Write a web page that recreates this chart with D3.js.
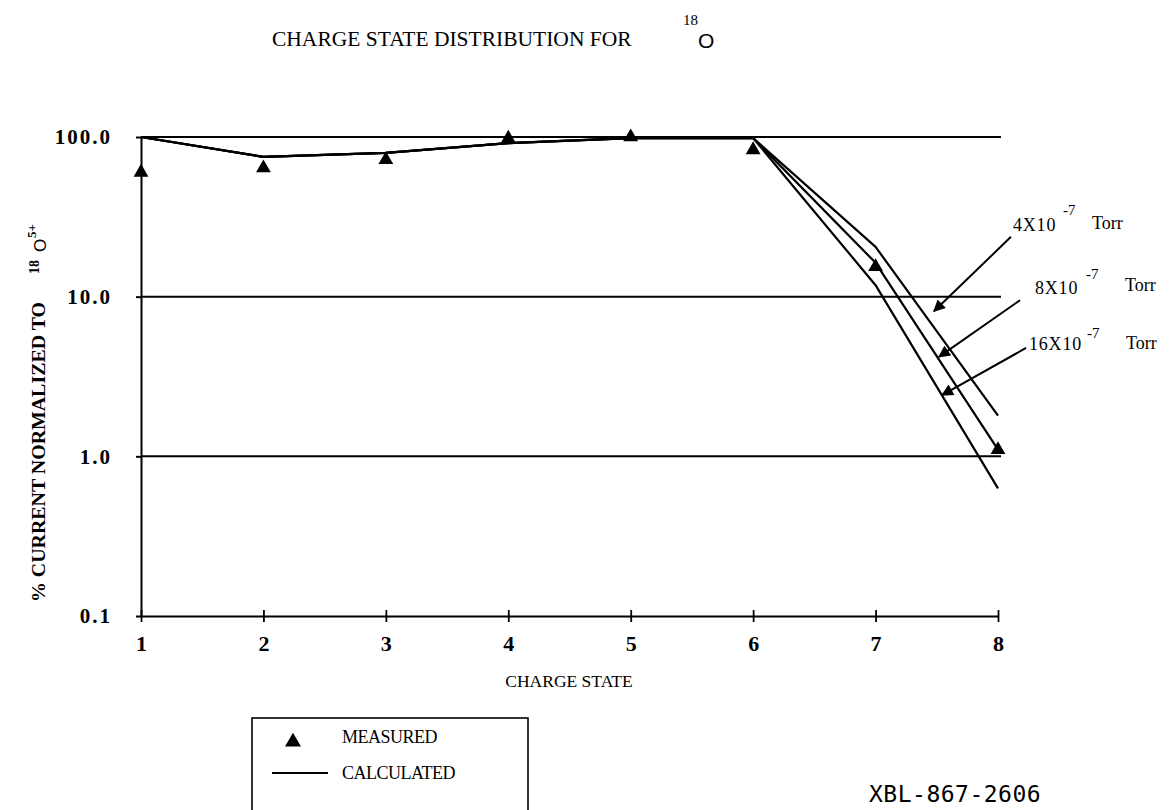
<!DOCTYPE html>
<html>
<head>
<meta charset="utf-8">
<script src="https://cdn.jsdelivr.net/npm/d3@7"></script>
<style>
  html, body { margin: 0; padding: 0; background: #fff; }
  svg { display: block; }
</style>
</head>
<body>
<svg id="chart" width="1176" height="810" font-family="Liberation Serif"></svg>
<script>
// ---- data ----
const chargeStates = [1, 2, 3, 4, 5, 6, 7, 8];
const measured     = [60, 64, 72, 98, 100, 83, 15.4, 1.1];
const calc4e7      = [100, 75, 79.5, 91.5, 98.5, 98.5, 20.5, 1.8];
const calc8e7      = [100, 75, 79.5, 91.5, 98.5, 98.5, 16.3, 1.1];
const calc16e7     = [100, 75, 79.5, 91.5, 98.5, 98.5, 11.8, 0.63];
const yTickValues  = [100, 10, 1, 0.1];
const yTickLabels  = ["100.0", "10.0", "1.0", "0.1"];
const xTickLabels  = ["1", "2", "3", "4", "5", "6", "7", "8"];
const gridValues   = [100, 10, 1];
const pressureLabels = ["4X10", "8X10", "16X10"];
// annotation arrows in data units: [x, y] of start and of tip
const arrowStart = [[8.106, 23.7], [8.18, 9.5], [8.229, 4.77]];
const arrowTip   = [[7.477, 8.1], [7.518, 4.2], [7.543, 2.42]];

// ---- layout ----
const svg = d3.select("#chart");
const x = d3.scaleLinear().domain([1, 8]).range([141, 998]);
const y = d3.scaleLog().domain([0.1, 100]).range([616, 137]);

const ink = "#000";

// gridlines
svg.append("g").selectAll("line").data(gridValues).join("line")
  .attr("x1", x(1)).attr("x2", x(8) + 3)
  .attr("y1", d => y(d)).attr("y2", d => y(d))
  .attr("stroke", ink).attr("stroke-width", 2);

// y axis
const yAxis = d3.axisLeft(y).tickValues(yTickValues)
  .tickFormat((d, i) => yTickLabels[i]).tickSizeInner(5).tickSizeOuter(0).tickPadding(24);
const gy = svg.append("g").attr("transform", `translate(${x(1)},0)`).call(yAxis);
gy.attr("font-family", null).attr("font-size", null);
gy.select(".domain").attr("stroke", ink).attr("stroke-width", 2);
gy.selectAll(".tick line").attr("stroke", ink).attr("stroke-width", 2);
gy.selectAll(".tick text").attr("font-family", "Liberation Serif").attr("font-size", 21)
  .attr("font-weight", "bold").attr("letter-spacing", 2).attr("fill", ink);

// x axis
const xAxis = d3.axisBottom(x).tickValues(chargeStates)
  .tickFormat((d, i) => xTickLabels[i]).tickSize(0).tickPadding(19);
const gx = svg.append("g").attr("transform", `translate(0,${y(0.1)})`).call(xAxis);
gx.attr("font-family", null).attr("font-size", null);
gx.select(".domain").attr("stroke", ink).attr("stroke-width", 2);
gx.selectAll(".tick line").attr("y1", -6).attr("y2", 6).attr("stroke", ink).attr("stroke-width", 1.8);
gx.selectAll(".tick text").attr("font-family", "Liberation Serif").attr("font-size", 22)
  .attr("font-weight", "bold").attr("fill", ink);

// calculated lines
const line = d3.line().x((d, i) => x(chargeStates[i])).y(d => y(d));
[calc4e7, calc8e7, calc16e7].forEach(s => {
  svg.append("path").datum(s).attr("d", line)
    .attr("fill", "none").attr("stroke", ink).attr("stroke-width", 2.2)
    .attr("stroke-linejoin", "round");
});

// measured triangles
const tri = d3.symbol().type(d3.symbolTriangle).size(95);
svg.append("g").selectAll("path").data(measured).join("path")
  .attr("d", tri)
  .attr("transform", (d, i) => `translate(${x(chargeStates[i])},${y(d)})`)
  .attr("fill", ink);

// annotation arrows
const defs = svg.append("defs");
defs.append("marker").attr("id", "ah").attr("viewBox", "0 0 10 10")
  .attr("refX", 9).attr("refY", 5).attr("markerWidth", 7).attr("markerHeight", 6)
  .attr("markerUnits", "strokeWidth").attr("orient", "auto")
  .append("path").attr("d", "M0,0 L10,5 L0,10 Z").attr("fill", ink);
arrowStart.forEach((s, i) => {
  svg.append("line")
    .attr("x1", x(s[0])).attr("y1", y(s[1]))
    .attr("x2", x(arrowTip[i][0])).attr("y2", y(arrowTip[i][1]))
    .attr("stroke", ink).attr("stroke-width", 2).attr("marker-end", "url(#ah)");
});

// pressure labels
const labelPos = [[1013, 231, 1063, 215, 1092, 229], [1035, 294, 1086, 279, 1125, 291], [1029, 350, 1087, 338, 1126, 349]];
labelPos.forEach((p, i) => {
  svg.append("text").attr("x", p[0]).attr("y", p[1]).attr("font-size", 18).attr("letter-spacing", 0.8).text(pressureLabels[i]);
  svg.append("text").attr("x", p[2]).attr("y", p[3]).attr("font-size", 15).text("-7");
  svg.append("text").attr("x", p[4]).attr("y", p[5]).attr("font-size", 18).text("Torr");
});

// title
svg.append("text").attr("x", 272).attr("y", 46).attr("font-size", 21.5).text("CHARGE STATE DISTRIBUTION FOR");
svg.append("text").attr("x", 683).attr("y", 25).attr("font-size", 15).text("18");
svg.append("text").attr("x", 698).attr("y", 48).attr("font-size", 21).attr("font-family", "Liberation Sans").text("O");

// x axis title
svg.append("text").attr("x", 569).attr("y", 687).attr("text-anchor", "middle").attr("font-size", 17.5).text("CHARGE STATE");

// y axis title (rotated)
const yt = svg.append("g").attr("transform", "translate(45,602) rotate(-90)");
yt.append("text").attr("x", 0).attr("y", 0).attr("font-size", 18).attr("font-weight", "bold")
  .attr("textLength", 300).attr("lengthAdjust", "spacingAndGlyphs").text("% CURRENT NORMALIZED TO");
yt.append("text").attr("x", 328).attr("y", -6).attr("font-size", 14).attr("font-weight", "bold").text("18");
yt.append("text").attr("x", 350).attr("y", 1).attr("font-size", 17).attr("font-family", "Liberation Sans").text("O");
yt.append("text").attr("x", 364).attr("y", -9).attr("font-size", 13).attr("font-weight", "bold").text("5+");

// legend
svg.append("rect").attr("x", 252).attr("y", 718).attr("width", 276).attr("height", 110)
  .attr("fill", "none").attr("stroke", ink).attr("stroke-width", 1.6);
svg.append("path").attr("d", d3.symbol().type(d3.symbolTriangle).size(110))
  .attr("transform", "translate(293,742)").attr("fill", ink);
svg.append("text").attr("x", 342).attr("y", 743).attr("font-size", 18).attr("letter-spacing", -0.5).text("MEASURED");
svg.append("line").attr("x1", 272).attr("x2", 328).attr("y1", 773).attr("y2", 773)
  .attr("stroke", ink).attr("stroke-width", 1.8);
svg.append("text").attr("x", 342).attr("y", 779).attr("font-size", 18).attr("letter-spacing", -0.5).text("CALCULATED");

// figure id
svg.append("text").attr("x", 869).attr("y", 802).attr("font-family", "DejaVu Sans Mono")
  .attr("font-size", 23).attr("letter-spacing", 0.5).text("XBL-867-2606");
</script>
</body>
</html>
